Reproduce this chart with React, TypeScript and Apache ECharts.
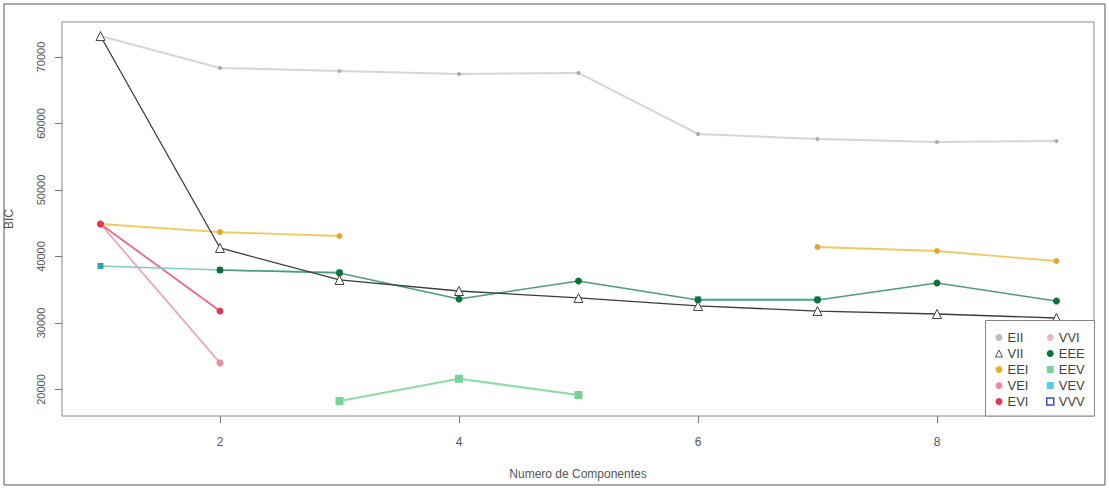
import React, { useEffect, useRef } from "react";
import * as echarts from "echarts";

const components = [1, 2, 3, 4, 5, 6, 7, 8, 9];
const EII = [73150, 68350, 67900, 67440, 67600, 58420, 57670, 57220, 57370];
const VII = [73150, 41280, 36470, 34810, 33770, 32560, 31800, 31350, 30750];
const EEI = [44890, 43680, 43080, null, null, null, 41430, 40830, 39320];
const VEI = [44890, 24000, null, null, null, null, null, null, null];
const EVI = [44890, 31800, null, null, null, null, null, null, null];
const VVI = [null, null, null, null, null, null, null, null, null];
const EEE = [null, 37970, 37520, 33610, 36320, 33460, 33460, 36020, 33310];
const EEV = [null, null, 18270, 21620, 19170, null, null, null, null];
const VEV = [38570, 37970, 37620, null, null, 33560, 33560, null, null];
const VVV = [null, null, null, null, null, null, null, null, null];
const xTicks = [2, 4, 6, 8];
const yTicks = [20000, 30000, 40000, 50000, 60000, 70000];
const legendCol1 = ["EII", "VII", "EEI", "VEI", "EVI"];
const legendCol2 = ["VVI", "EEE", "EEV", "VEV", "VVV"];

const FONT = "Liberation Sans, Arial, sans-serif";

function pts(vals: (number | null)[]) {
  return components.map((c, i) => [c, vals[i] == null ? "-" : vals[i]]);
}

export default function App() {
  const ref = useRef<HTMLDivElement>(null);
  useEffect(() => {
    if (!ref.current) return;
    const chart = echarts.init(ref.current, undefined, { renderer: "svg" });
    const mk = (
      name: string,
      vals: (number | null)[],
      lineColor: string,
      width: number,
      symbol: string,
      size: number,
      itemStyle: any
    ) => ({
      name,
      type: "line",
      data: pts(vals),
      connectNulls: false,
      symbol,
      symbolSize: size,
      showSymbol: true,
      lineStyle: { color: lineColor, width },
      itemStyle,
      emphasis: { disabled: true },
    });
    const series = [
      mk("EII", EII, "#d6d6d6", 2, "circle", 4, { color: "#aaaaaa" }),
      mk("VVI", VVI, "#ecc4cc", 1.5, "circle", 6, { color: "#eab8c2" }),
      mk("EEI", EEI, "#f2c860", 1.8, "circle", 6, { color: "#e0a830" }),
      mk("VEI", VEI, "#eaa8b2", 1.8, "circle", 7, { color: "#e890a0" }),
      mk("EVI", EVI, "#ea6a80", 1.8, "circle", 7, { color: "#e03858" }),
      mk("VEV", VEV, "#80ccc4", 1.6, "rect", 6, { color: "#2ea4ac" }),
      mk("EEV", EEV, "#8cdca8", 2.2, "rect", 8, { color: "#78d29a" }),
      mk("EEE", EEE, "#4e9c7c", 1.5, "circle", 7, { color: "#10703a" }),
      mk("VII", VII, "#3c3c3c", 1.3, "triangle", 9, {
        color: "#ffffff",
        borderColor: "#444444",
        borderWidth: 1,
      }),
      mk("VVV", VVV, "#3050c0", 1.5, "rect", 8, {
        color: "#ffffff",
        borderColor: "#3050c0",
        borderWidth: 1.5,
      }),
    ];
    const legendIcon: Record<string, any> = {
      EII: { icon: "circle", itemStyle: { color: "#bdbdbd" } },
      VII: {
        icon: "triangle",
        itemStyle: { color: "#ffffff", borderColor: "#555", borderWidth: 1 },
      },
      EEI: { icon: "circle", itemStyle: { color: "#e8b030" } },
      VEI: { icon: "circle", itemStyle: { color: "#e890a0" } },
      EVI: { icon: "circle", itemStyle: { color: "#e03858" } },
      VVI: { icon: "circle", itemStyle: { color: "#eab8c2" } },
      EEE: { icon: "circle", itemStyle: { color: "#10703a" } },
      EEV: { icon: "rect", itemStyle: { color: "#78d29a" } },
      VEV: { icon: "rect", itemStyle: { color: "#5ccce0" } },
      VVV: {
        icon: "rect",
        itemStyle: { color: "#ffffff", borderColor: "#3050c0", borderWidth: 1.5 },
      },
    };
    const legendBase = {
      orient: "vertical",
      itemGap: 3,
      itemWidth: 7,
      itemHeight: 7,
      selectedMode: false,
      z: 20,
      textStyle: { fontSize: 13, color: "#444", fontFamily: FONT, lineHeight: 13 },
      padding: 0,
    };
    chart.setOption({
      animation: false,
      backgroundColor: "#ffffff",
      grid: {
        left: 62,
        top: 22,
        right: 15,
        bottom: 73,
        outerBoundsMode: "none",
        containLabel: false,
        show: true,
        borderColor: "#888888",
        borderWidth: 1,
        backgroundColor: "transparent",
      },
      xAxis: {
        type: "value",
        min: 0.678,
        max: 9.314,
        name: "Numero de Componentes",
        nameLocation: "middle",
        nameGap: 52,
        nameTextStyle: { fontSize: 12, color: "#555", fontFamily: FONT },
        axisLine: { show: false },
        splitLine: { show: false },
        axisTick: {
          show: true,
          length: 7,
          lineStyle: { color: "#777" },
          customValues: xTicks,
        },
        axisLabel: {
          fontSize: 12,
          color: "#555",
          fontFamily: FONT,
          margin: 20,
          customValues: xTicks,
          formatter: (v: number) => String(v),
        },
      },
      yAxis: {
        type: "value",
        min: 16015,
        max: 75263,
        name: "BIC",
        nameLocation: "middle",
        nameGap: 47,
        nameRotate: 90,
        nameTextStyle: { fontSize: 12, color: "#555", fontFamily: FONT },
        axisLine: { show: false },
        splitLine: { show: false },
        axisTick: {
          show: true,
          length: 7,
          lineStyle: { color: "#777" },
          customValues: yTicks,
        },
        axisLabel: {
          fontSize: 11,
          color: "#555",
          fontFamily: FONT,
          rotate: 90,
          margin: 16,
          customValues: yTicks,
          formatter: (v: number) => String(v),
        },
      },
      legend: [
        {
          ...legendBase,
          left: 995,
          top: 331,
          data: legendCol1.map((n) => ({ name: n, ...legendIcon[n] })),
        },
        {
          ...legendBase,
          left: 1046,
          top: 331,
          data: legendCol2.map((n) => ({ name: n, ...legendIcon[n] })),
        },
      ],
      graphic: [
        {
          type: "rect",
          shape: { x: 4, y: 4, width: 1101, height: 481 },
          style: { fill: "none", stroke: "#555", lineWidth: 1 },
          silent: true,
          z: -1,
        },
        {
          type: "rect",
          shape: { x: 985.5, y: 320.5, width: 109, height: 95.5 },
          style: { fill: "#ffffff", stroke: "#888", lineWidth: 1 },
          silent: true,
          z: 5,
        },
      ],
      series,
    });
    return () => chart.dispose();
  }, []);
  return (
    <div
      ref={ref}
      style={{ position: "absolute", left: 0, top: 0, width: 1109, height: 489 }}
    />
  );
}
